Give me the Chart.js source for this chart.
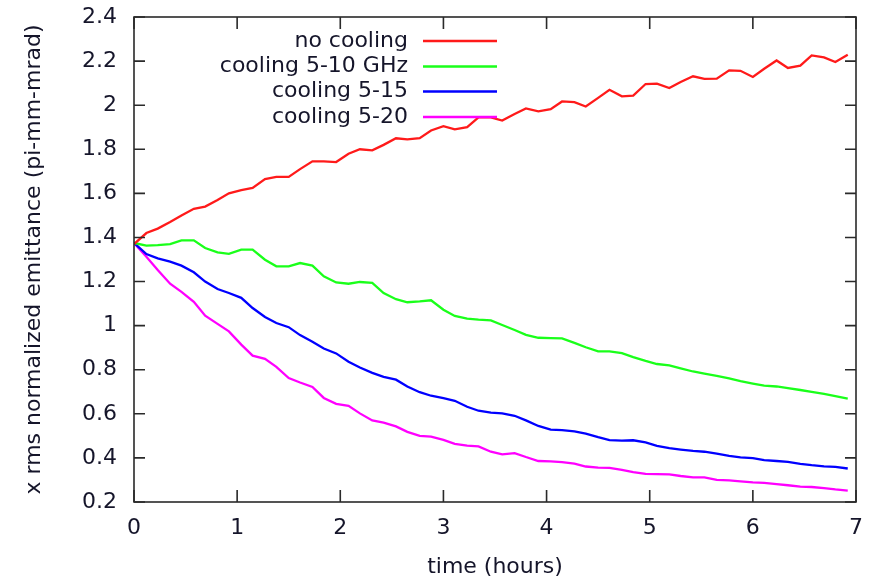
<!DOCTYPE html>
<html>
<head>
<meta charset="utf-8">
<script src="https://cdn.jsdelivr.net/npm/chart.js@4"></script>
<style>
html,body{margin:0;padding:0;background:#fff;}
#c{display:block;}
</style>
</head>
<body>
<canvas id="c" width="877" height="580"></canvas>
<script>
// time in hours
const times = [0,0.12,0.23,0.35,0.46,0.58,0.69,0.81,0.92,1.04,1.15,1.27,1.38,1.50,1.61,1.73,1.84,1.96,2.08,2.19,2.31,2.42,2.54,2.65,2.77,2.88,3.00,3.11,3.23,3.34,3.46,3.57,3.69,3.80,3.92,4.04,4.15,4.27,4.38,4.50,4.61,4.73,4.84,4.96,5.07,5.19,5.30,5.42,5.53,5.65,5.77,5.88,6.00,6.11,6.23,6.34,6.46,6.57,6.69,6.80,6.92];

const noCooling = [1.37,1.42,1.44,1.47,1.50,1.53,1.54,1.57,1.60,1.615,1.625,1.665,1.675,1.675,1.71,1.745,1.745,1.742,1.78,1.80,1.795,1.82,1.85,1.845,1.85,1.885,1.905,1.89,1.90,1.945,1.945,1.93,1.96,1.985,1.972,1.982,2.017,2.014,1.994,2.033,2.07,2.04,2.043,2.096,2.098,2.078,2.105,2.131,2.119,2.12,2.158,2.156,2.128,2.165,2.203,2.169,2.179,2.226,2.217,2.196,2.229];

const cooling5to10 = [1.375,1.363,1.365,1.370,1.387,1.387,1.352,1.332,1.326,1.345,1.345,1.299,1.269,1.269,1.284,1.272,1.224,1.196,1.190,1.198,1.194,1.148,1.120,1.106,1.110,1.115,1.072,1.044,1.032,1.027,1.024,1.003,0.980,0.958,0.945,0.943,0.942,0.922,0.902,0.883,0.883,0.875,0.857,0.840,0.826,0.820,0.806,0.792,0.782,0.772,0.761,0.748,0.737,0.728,0.724,0.717,0.708,0.700,0.690,0.680,0.669];

const cooling5to15 = [1.375,1.325,1.305,1.290,1.272,1.242,1.200,1.166,1.148,1.126,1.080,1.039,1.012,0.993,0.957,0.927,0.896,0.874,0.836,0.810,0.786,0.768,0.755,0.724,0.698,0.682,0.671,0.659,0.632,0.614,0.605,0.602,0.591,0.570,0.545,0.528,0.526,0.520,0.510,0.494,0.481,0.478,0.480,0.470,0.455,0.444,0.438,0.432,0.428,0.419,0.409,0.402,0.399,0.390,0.386,0.382,0.373,0.367,0.362,0.359,0.352];

const cooling5to20 = [1.375,1.312,1.252,1.190,1.153,1.108,1.045,1.008,0.974,0.914,0.864,0.849,0.813,0.762,0.742,0.722,0.672,0.645,0.636,0.602,0.570,0.560,0.543,0.518,0.500,0.497,0.482,0.464,0.456,0.452,0.428,0.416,0.422,0.404,0.386,0.384,0.381,0.374,0.361,0.356,0.355,0.346,0.335,0.328,0.326,0.325,0.318,0.312,0.312,0.300,0.298,0.294,0.289,0.287,0.281,0.276,0.270,0.268,0.263,0.257,0.252];

const seriesNames = ['no cooling','cooling 5-10 GHz','cooling 5-15','cooling 5-20'];
const seriesColors = ['#ff1a1a','#1aff1a','#0000ff','#ff00ff'];
const xTickLabels = ['0','1','2','3','4','5','6','7'];
const yTickLabels = ['0.2','0.4','0.6','0.8','1','1.2','1.4','1.6','1.8','2','2.2','2.4'];
const xTitle = 'time (hours)';
const yTitle = 'x rms normalized emittance (pi-mm-mrad)';

const FONT = '"DejaVu Sans", "Liberation Sans", Arial, sans-serif';
const TEXT = '#15152a';

const allSeries = [noCooling, cooling5to10, cooling5to15, cooling5to20];
const datasets = allSeries.map((vals, i) => ({
  label: seriesNames[i],
  data: vals.map((v, j) => ({x: times[j], y: v})),
  borderColor: seriesColors[i],
  backgroundColor: seriesColors[i],
  borderWidth: 2.3,
  pointRadius: 0,
  tension: 0,
  fill: false
}));

const frame = {
  id: 'frame',
  afterDatasetsDraw(chart) {
    const {ctx, chartArea: a, scales} = chart;
    ctx.save();
    ctx.strokeStyle = '#2a2a2a';
    ctx.lineWidth = 1.6;
    ctx.strokeRect(a.left, a.top, a.right - a.left, a.bottom - a.top);
    ctx.beginPath();
    scales.x.ticks.forEach(t => {
      const px = scales.x.getPixelForValue(t.value);
      ctx.moveTo(px, a.bottom); ctx.lineTo(px, a.bottom - 12);
      ctx.moveTo(px, a.top); ctx.lineTo(px, a.top + 12);
    });
    scales.y.ticks.forEach(t => {
      const py = scales.y.getPixelForValue(t.value);
      ctx.moveTo(a.left, py); ctx.lineTo(a.left + 11, py);
      ctx.moveTo(a.right, py); ctx.lineTo(a.right - 11, py);
    });
    ctx.stroke();
    // gnuplot-style key
    const rows = [41, 66.5, 91.5, 117];
    ctx.font = '22px ' + FONT;
    ctx.textAlign = 'right';
    ctx.textBaseline = 'middle';
    chart.data.datasets.forEach((ds, i) => {
      ctx.fillStyle = TEXT;
      ctx.fillText(ds.label, 408, rows[i]);
      ctx.strokeStyle = ds.borderColor;
      ctx.lineWidth = 2.3;
      ctx.beginPath();
      ctx.moveTo(423, rows[i]); ctx.lineTo(497, rows[i]);
      ctx.stroke();
    });
    ctx.restore();
  }
};

new Chart(document.getElementById('c'), {
  type: 'line',
  data: {datasets},
  plugins: [frame],
  options: {
    responsive: false,
    animation: false,
    devicePixelRatio: 1,
    layout: {padding: {left: 0, right: 21, top: 17, bottom: 0}},
    plugins: {legend: {display: false}, tooltip: {enabled: false}},
    scales: {
      x: {
        type: 'linear', min: 0, max: 7,
        afterFit: s => { s.height = 78; s.paddingLeft = 0; s.paddingRight = 0; },
        grid: {display: false, drawTicks: false},
        border: {display: false},
        ticks: {
          stepSize: 1, padding: 13, color: TEXT, maxRotation: 0,
          font: {family: FONT, size: 22},
          callback: v => xTickLabels[Math.round(v)]
        },
        title: {display: true, text: xTitle, color: TEXT,
          font: {family: FONT, size: 22}, padding: {top: 0, bottom: 0}}
      },
      y: {
        type: 'linear', min: 0.2, max: 2.4,
        afterFit: s => { s.width = 134; s.paddingTop = 0; s.paddingBottom = 0; },
        grid: {display: false, drawTicks: false},
        border: {display: false},
        ticks: {
          stepSize: 0.2, padding: 17, color: TEXT,
          font: {family: FONT, size: 22},
          callback: v => yTickLabels[Math.round((v - 0.2) / 0.2)]
        },
        title: {display: true, text: yTitle, color: TEXT,
          font: {family: FONT, size: 22}, padding: {top: 21, bottom: 0}}
      }
    }
  }
});
</script>
</body>
</html>
